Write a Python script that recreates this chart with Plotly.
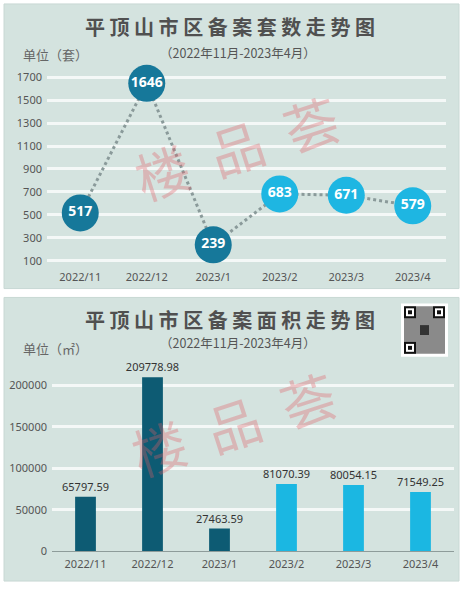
import plotly.graph_objects as go

months = ["2022/11", "2022/12", "2023/1", "2023/2", "2023/3", "2023/4"]
units = [517, 1646, 239, 683, 671, 579]
areas = [65797.59, 209778.98, 27463.59, 81070.39, 80054.15, 71549.25]
unit_ticks = [100, 300, 500, 700, 900, 1100, 1300, 1500, 1700]
area_ticks = [0, 50000, 100000, 150000, 200000]

W, H = 464, 593
def py(p):
    return 1 - p / H
def px(p):
    return p / W

dark_m = "#16789a"
light_m = "#1eb6e2"
dark_b = "#0d5b73"
light_b = "#1bb7e2"
marker_colors = [dark_m] * 3 + [light_m] * 3
bar_colors = [dark_b] * 3 + [light_b] * 3
panel = "#d4e3df"
txt = "#555555"
tickfont = dict(family="Noto Sans", size=11, color="#555555")

fig = go.Figure()
fig.add_trace(go.Scatter(
    x=months, y=units, mode="lines+markers+text",
    text=[str(v) for v in units], textposition="middle center",
    textfont=dict(family="Noto Sans", size=14, color="white", weight="bold"),
    line=dict(color="#8a9a9a", width=3, dash="dot"),
    marker=dict(size=37, color=marker_colors, line=dict(width=0)),
    cliponaxis=False, xaxis="x", yaxis="y", showlegend=False,
))
fig.add_trace(go.Bar(
    x=months, y=areas, marker=dict(color=bar_colors, line=dict(width=0)),
    text=[f"{v:.2f}" for v in areas], textposition="outside", constraintext="none",
    textfont=dict(family="Noto Sans", size=11, color="#333333"),
    cliponaxis=False, xaxis="x2", yaxis="y2", showlegend=False,
))

shapes = [
    dict(type="rect", xref="paper", yref="paper", x0=px(4), x1=px(459), y0=py(292), y1=py(4),
         fillcolor=panel, line=dict(color="#c8d8d4", width=1), layer="below"),
    dict(type="rect", xref="paper", yref="paper", x0=px(4), x1=px(459), y0=py(588), y1=py(301),
         fillcolor=panel, line=dict(color="#c8d8d4", width=1), layer="below"),
    # QR code placeholder
    dict(type="rect", xref="paper", yref="paper", x0=px(401), x1=px(448), y0=py(361), y1=py(307),
         fillcolor="white", line=dict(width=0), layer="above"),
    dict(type="rect", xref="paper", yref="paper", x0=px(404), x1=px(445), y0=py(358), y1=py(310),
         fillcolor="#8a8a8a", line=dict(width=0), layer="above"),
]
for (a, b) in [(404, 310), (433, 310), (404, 346)]:
    shapes.append(dict(type="rect", xref="paper", yref="paper", x0=px(a), x1=px(a + 12),
                       y0=py(b + 12), y1=py(b), fillcolor="#111111", line=dict(width=0), layer="above"))
    shapes.append(dict(type="rect", xref="paper", yref="paper", x0=px(a + 2), x1=px(a + 10),
                       y0=py(b + 10), y1=py(b + 2), fillcolor="white", line=dict(width=0), layer="above"))
    shapes.append(dict(type="rect", xref="paper", yref="paper", x0=px(a + 4), x1=px(a + 8),
                       y0=py(b + 8), y1=py(b + 4), fillcolor="#111111", line=dict(width=0), layer="above"))
shapes.append(dict(type="rect", xref="paper", yref="paper", x0=px(420), x1=px(429), y0=py(339), y1=py(329),
                   fillcolor="#333333", line=dict(width=0), layer="above"))

def ann(text, x, y, size, color=txt, bold=False, xanchor="center", angle=0, family="Noto Sans CJK SC"):
    return dict(text=text, x=px(x), y=py(y), xref="paper", yref="paper", showarrow=False,
                xanchor=xanchor, yanchor="middle", textangle=angle,
                font=dict(family=family, size=size, color=color, weight="bold" if bold else "normal"))

annotations = [
    ann("平 顶 山 市 区 备 案 套 数 走 势 图", 230, 27, 20, "#505050", True),
    ann("（2022年11月-2023年4月）", 238, 53, 12.5, "#555555"),
    ann("单位（套）", 21, 55, 13, "#666666", xanchor="left"),
    ann("平 顶 山 市 区 备 案 面 积 走 势 图", 230, 323, 20, "#505050", True),
    ann("（2022年11月-2023年4月）", 238, 347, 12.5, "#555555"),
    ann("单位（㎡）", 21, 353, 13, "#666666", xanchor="left"),
    ann("楼  品  荟", 236, 148, 54, "rgba(226,90,100,0.33)", angle=-18),
    ann("楼  品  荟", 233, 428, 54, "rgba(226,90,100,0.33)", angle=-18),
]

fig.update_layout(
    width=W, height=H, margin=dict(l=0, r=0, t=0, b=0),
    paper_bgcolor="white", plot_bgcolor="rgba(0,0,0,0)",
    shapes=shapes, annotations=annotations, bargap=0.69,
    xaxis=dict(domain=[px(47), px(446)], type="category", range=[-0.5, 5.5],
               showgrid=False, showline=False, zeroline=False, ticks="",
               tickfont=tickfont, anchor="y", ticklabelstandoff=2),
    yaxis=dict(domain=[py(270), py(70)], range=[48, 1769], tickvals=unit_ticks,
               ticktext=[str(v) for v in unit_ticks],
               showgrid=True, gridcolor="#f4f8f7", gridwidth=2.5, zeroline=False,
               showline=False, ticks="", tickfont=tickfont, anchor="x", ticklabelstandoff=4),
    xaxis2=dict(domain=[px(52), px(454)], type="category", range=[-0.5, 5.5],
                showgrid=False, showline=True, linecolor="#8e9c9a", linewidth=1, zeroline=False,
                ticks="", tickfont=tickfont, anchor="y2", ticklabelstandoff=2),
    yaxis2=dict(domain=[py(558), py(375)], range=[0, 217857], tickvals=area_ticks,
                ticktext=[str(v) for v in area_ticks],
                showgrid=True, gridcolor="#f4f8f7", gridwidth=2.5, zeroline=False,
                showline=False, ticks="", tickfont=tickfont, anchor="x2", ticklabelstandoff=4),
)

post = (
    "document.documentElement.style.margin='0';"
    "document.documentElement.style.overflow='hidden';"
    "document.body.style.margin='0';"
    "document.body.style.overflow='hidden';"
    "var d=document.getElementById('{plot_id}');"
    "if(d&&d.parentElement){d.parentElement.style.height='593px';"
    "d.parentElement.style.lineHeight='0';d.parentElement.style.overflow='hidden';}"
)
fig.write_html("out.html", post_script=post, config={"displayModeBar": False})
